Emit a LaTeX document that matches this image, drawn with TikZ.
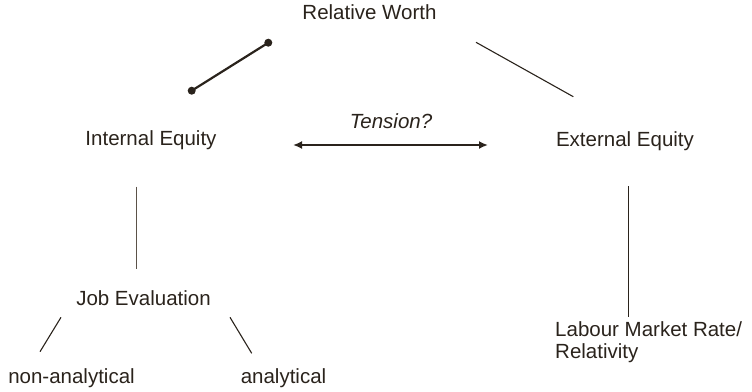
\documentclass[tikz,border=0pt]{standalone}
\usepackage{fontspec}
\setmainfont{Liberation Sans}
\usetikzlibrary{arrows.meta}
\definecolor{ink}{HTML}{2A231C}
\definecolor{greyline}{HTML}{5B5249}
\begin{document}
\begin{tikzpicture}[x=1pt,y=-1pt,
  lbl/.style={inner sep=0pt,anchor=base,text=ink,font=\fontsize{20.5}{22}\selectfont},
  conn/.style={draw=ink,line width=1.1pt},
  ]
\useasboundingbox (0,0) rectangle (752,391);
% text nodes
\node[lbl] (rw) at (369.5,19) {Relative Worth};
\node[lbl] (ie) at (151,145.7) {Internal Equity};
\node[lbl] (ee) at (625,146) {External Equity};
\node[lbl,font=\fontsize{20.5}{22}\selectfont\itshape] (tn) at (391,128) {Tension?};
\node[lbl] (je) at (143.5,305) {Job Evaluation};
\node[lbl] (na) at (71.5,383) {non-analytical};
\node[lbl] (an) at (283.5,383) {analytical};
\node[lbl,anchor=base west,align=left] (lm) at (555,358) {Labour Market Rate/\\Relativity};
% connector end points
\coordinate (c1a) at (268.3,42.7);
\coordinate (c1b) at (191.7,90.7);
\coordinate (c2a) at (476,42.3);
\coordinate (c2b) at (573.3,96.7);
\coordinate (c3a) at (136.7,186.7);
\coordinate (c3b) at (136.7,269.3);
\coordinate (c4a) at (628.3,186);
\coordinate (c4b) at (628.3,317);
\coordinate (c5a) at (61,317.3);
\coordinate (c5b) at (40,351.7);
\coordinate (c6a) at (230,317.3);
\coordinate (c6b) at (251.7,353.3);
\coordinate (t1) at (293,145);
\coordinate (t2) at (488,145);
% connectors
\draw[conn,line width=2.2pt] (c1a) -- (c1b);
\fill[ink] (c1a) circle (4) (c1b) circle (4);
\draw[conn] (c2a) -- (c2b);
\draw[conn,draw=greyline] (c3a) -- (c3b);
\draw[conn] (c4a) -- (c4b);
\draw[conn] (c5a) -- (c5b);
\draw[conn] (c6a) -- (c6b);
\draw[conn,line width=2.2pt,{Latex[length=9pt,width=8pt]}-{Latex[length=9pt,width=8pt]}] (t1) -- (t2);
\end{tikzpicture}
\end{document}
